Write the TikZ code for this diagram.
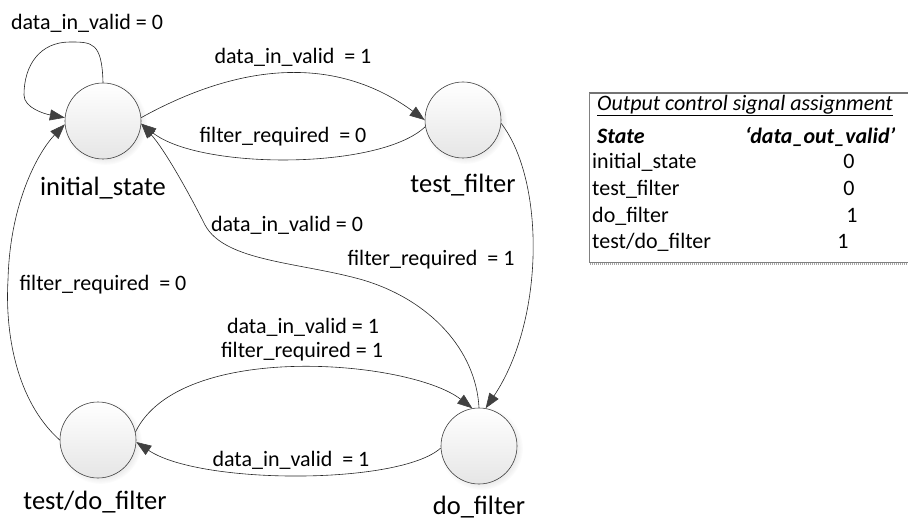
\documentclass[tikz,border=0pt]{standalone}
\usepackage{fontspec}
\setmainfont{Carlito}
\usetikzlibrary{arrows.meta,shadows}
\begin{document}
\begin{tikzpicture}[x=1pt,y=-1pt,
  state/.style={circle,draw=black!75,line width=0.6pt,top color=white,bottom color=black!10,
    minimum size=76pt,inner sep=0pt,
    circular drop shadow={shadow xshift=2pt,shadow yshift=-2pt,opacity=0.12,fill=black!60}},
  statename/.style={font=\fontsize{26.5}{30}\selectfont,inner sep=0pt},
  cond/.style={font=\fontsize{22}{26}\selectfont,inner sep=0pt},
  trans/.style={draw=black!85,line width=0.6pt,
    -{Triangle[length=15pt,width=11pt,color=black!75]}},
  cell/.style={font=\fontsize{22}{26}\selectfont,inner sep=0pt,anchor=west,
    text height=15pt,text depth=4pt},
  val/.style={font=\fontsize{22}{26}\selectfont,inner sep=0pt,
    text height=15pt,text depth=4pt}
]
\useasboundingbox (0,0) rectangle (908,521);

% states
\node[state] (i) at (103,121) {};
\node[state] (t) at (463,120) {};
\node[state] (d) at (479,446) {};
\node[state] (td) at (98,440) {};

\node[statename] (iname) at (103,188) {initial\_state};
\node[statename] (tname) at (463,185) {test\_filter};
\node[statename] (tdname) at (95,502) {test/do\_filter};
\node[statename,anchor=base] (dname) at (479,514) {do\_filter};

% transitions
\draw[trans] (i.north) .. controls (102,42) and (92,42) .. (70,42)
  .. controls (40,42) and (24,65) .. (24,95)
  .. controls (24,108) and (45,114) .. (i.175);
\draw[trans] (i.5) .. controls (260,52) and (350,65) .. (t.180);
\draw[trans] (t.190) .. controls (380,170) and (200,170) .. (i.-4);
\draw[trans] (t.-5) .. controls (545,180) and (545,320) .. (d.80);
\draw[trans] (d.90) .. controls (476,350) and (430,300) .. (363,280)
  .. controls (300,262) and (225,262) .. (205,225)
  .. controls (190,195) and (165,150) .. (i.-4);
\draw[trans] (d.183) .. controls (400,485) and (200,485) .. (td.-3);
\draw[trans] (td.12) .. controls (180,340) and (410,360) .. (d.100);
\draw[trans] (td.180) .. controls (15,400) and (5,330) .. (8,280)
  .. controls (10,200) and (40,150) .. (i.185);

% transition conditions
\node[cond] (c1) at (87,23) {data\_in\_valid = 0};
\node[cond] (c2) at (293,57) {data\_in\_valid\ \ = 1};
\node[cond] (c3) at (283,137) {filter\_required\ \ = 0};
\node[cond] (c4) at (287,225) {data\_in\_valid = 0};
\node[cond] (c5) at (431,260) {filter\_required\ \ = 1};
\node[cond] (c6) at (103,285) {filter\_required\ \ = 0};
\node[cond] (c7) at (303,327) {data\_in\_valid = 1};
\node[cond] (c8) at (302,352) {filter\_required = 1};
\node[cond] (c9) at (291,460) {data\_in\_valid\ \ = 1};

% output assignment table
\draw[black!55,line width=1.2pt] (589,93) -- (908,93);
\draw[black!50,line width=0.6pt] (589,93) -- (589,262) -- (908,262);
\draw[black!35,line width=2pt,dash pattern=on 1pt off 1pt] (590,264.5) -- (908,264.5);

\node[cell] (title) at (597,105) {\itshape\underline{Output control signal assignment}};
\node[cell] (hstate) at (597,138) {\bfseries\itshape State};
\node[cell] (hout) at (745,138) {\bfseries\itshape ‘data\_out\_valid’};
\node[cell] (r1) at (592,163) {initial\_state};
\node[cell] (r2) at (592,190) {test\_filter};
\node[cell] (r3) at (592,217) {do\_filter};
\node[cell] (r4) at (592,243) {test/do\_filter};
\node[val] (v1) at (849,163) {0};
\node[val] (v2) at (849,190) {0};
\node[val] (v3) at (852,217) {1};
\node[val] (v4) at (843,243) {1};
\end{tikzpicture}
\end{document}
